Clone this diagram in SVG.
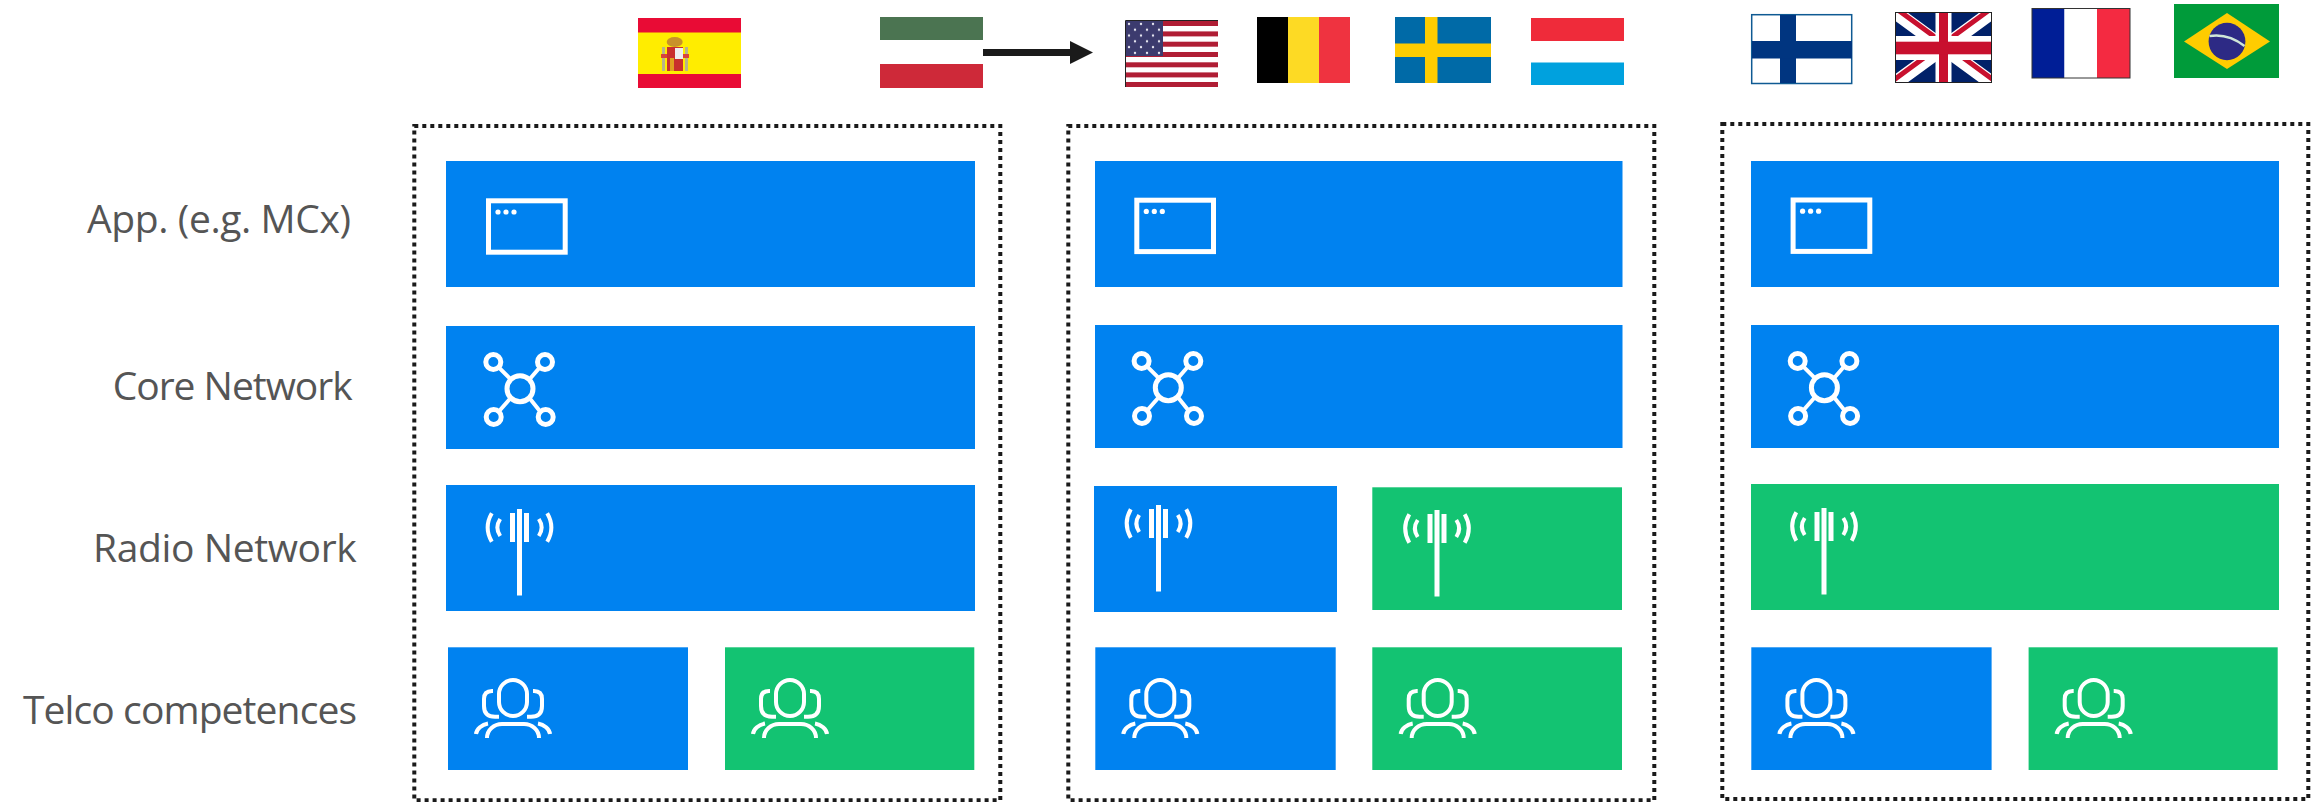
<svg xmlns="http://www.w3.org/2000/svg" xmlns:xlink="http://www.w3.org/1999/xlink" width="2323" height="802" viewBox="0 0 2323 802">
<style>
.blue{fill:#0082f0}
.green{fill:#13c372}
.frame{fill:none;stroke:#1a1a1a;stroke-width:4;stroke-dasharray:4 4}
.ico{fill:none;stroke:#fff;stroke-width:4}
.ico5{fill:none;stroke:#fff;stroke-width:5}
.lbl{font-family:"Open Sans","Lato",sans-serif;font-size:39px;fill:#555}
</style>
<defs>
<g id="i-win"><rect class="ico5" x="2.5" y="2.5" width="76.7" height="51.4"/><circle cx="12" cy="13.7" r="2.6" fill="#fff"/><circle cx="20" cy="13.7" r="2.6" fill="#fff"/><circle cx="28" cy="13.7" r="2.6" fill="#fff"/></g>
<g id="i-net"><circle class="ico5" r="13"/><circle class="ico5" cx="-26.7" cy="-26.7" r="7.5"/><circle class="ico5" cx="25" cy="-26.7" r="7.5"/><circle class="ico5" cx="-26.3" cy="28.3" r="7.5"/><circle class="ico5" cx="25.7" cy="28.3" r="7.5"/><path class="ico" d="M-21,-21L-10,-10M19.500,-21L10,-10M-21,22.500L-10,10M20,22.500L10,10"/></g>
<g id="i-ant"><rect x="-2.500" y="0" width="5" height="86.500" fill="#fff"/><rect x="-9.500" y="4" width="5" height="29" fill="#fff"/><rect x="4.500" y="4" width="5" height="29" fill="#fff"/><path class="ico" d="M-27.700,4.300Q-36,18.500 -27.700,32.700M-19.300,10Q-25,18.500 -19.300,27M27.700,4.300Q36,18.500 27.700,32.700M19.300,10Q25,18.500 19.300,27"/></g>
<g id="i-ppl"><rect class="ico" x="-14" y="2" width="28" height="36" rx="14" ry="14"/><path class="ico" d="M-20,13H-21Q-29,13 -29,21V28Q-29,38.700 -18,38.700H-14M20,13H21Q29,13 29,21V28Q29,38.700 18,38.700H14M-26,60C-26,52 -19,46 -11,46H11C19,46 26,52 26,60M-37,56C-36.500,51 -31,46.500 -25,45.500M37,56C36.500,51 31,46.500 25,45.500"/></g>
<marker id="ah" markerUnits="userSpaceOnUse" markerWidth="24" markerHeight="24" refX="0" refY="12" orient="auto"><path d="M0,0.500L23,12L0,23.500Z" fill="#1a1a1a"/></marker>
<pattern id="stars" width="12" height="11.600" patternUnits="userSpaceOnUse" x="1126" y="21"><circle cx="3" cy="3" r="1.200" fill="#e8e8f2"/><circle cx="9" cy="8.800" r="1.200" fill="#e8e8f2"/></pattern>
<clipPath id="ukclip"><rect x="1895" y="12" width="97" height="71"/></clipPath>
</defs>
<rect width="2323" height="802" fill="#fff"/>

<g id="labels">
<text class="lbl" x="87" y="232.900" textLength="264">App. (e.g. MCx)</text>
<text class="lbl" x="112.700" y="400" textLength="240">Core Network</text>
<text class="lbl" x="93" y="562" textLength="263.700">Radio Network</text>
<text class="lbl" x="23" y="723.800" textLength="334">Telco competences</text>
</g>

<g id="flag-spain">
<rect x="638" y="18" width="103" height="70" fill="#e90b35"/><rect x="638" y="32.500" width="103" height="41.500" fill="#ffed00"/>
<ellipse cx="674.700" cy="42" rx="8" ry="5" fill="#c8922a"/><rect x="667" y="47" width="16" height="24" fill="#c9302c"/><rect x="675" y="48" width="8" height="11" fill="#eee"/><rect x="670" y="58" width="4" height="13" fill="#e0a020"/><rect x="662" y="47" width="3" height="24" fill="#b8b48a"/><rect x="685" y="47" width="3" height="24" fill="#b8b48a"/><rect x="661" y="54" width="6" height="4" fill="#d8433a"/><rect x="683" y="54" width="6" height="4" fill="#d8433a"/>
</g>
<g id="flag-kuwait">
<rect x="880" y="17" width="103" height="23" fill="#4b7451"/><rect x="880" y="64" width="103" height="24" fill="#ce2939"/>
</g>
<g id="flag-usa">
<rect x="1125" y="20" width="93" height="67" fill="#fff"/>
<g fill="#b01e35"><rect x="1126" y="21" width="92" height="5"/><rect x="1126" y="31.400" width="92" height="5"/><rect x="1126" y="41.700" width="92" height="5"/><rect x="1126" y="52" width="92" height="5"/><rect x="1126" y="62.300" width="92" height="5"/><rect x="1126" y="72.400" width="92" height="5"/><rect x="1126" y="82" width="92" height="5"/></g>
<rect x="1126" y="21" width="37" height="35" fill="#3c3b6e"/><rect x="1126" y="21" width="37" height="35" fill="url(#stars)"/>
<path d="M1125.500,87V20.500H1218" fill="none" stroke="#222" stroke-width="1"/>
</g>
<g id="flag-belgium"><rect x="1257" y="17" width="31" height="66" fill="#000"/><rect x="1288" y="17" width="31" height="66" fill="#fdda24"/><rect x="1319" y="17" width="31" height="66" fill="#ef3340"/></g>
<g id="flag-sweden"><rect x="1395" y="17" width="96" height="66" fill="#006aa7"/><rect x="1425" y="17" width="12.500" height="66" fill="#fecc00"/><rect x="1395" y="43.500" width="96" height="13.500" fill="#fecc00"/></g>
<g id="flag-luxembourg"><rect x="1531" y="18" width="93" height="23" fill="#ef2b3a"/><rect x="1531" y="62.500" width="93" height="22.500" fill="#00a1de"/></g>
<g id="flag-finland"><rect x="1751.700" y="14.700" width="100" height="68.800" fill="#fff" stroke="#0f5a93" stroke-width="1.500"/><rect x="1780" y="15" width="16" height="68" fill="#003580"/><rect x="1752" y="41" width="100" height="17.500" fill="#003580"/></g>
<g id="flag-uk">
<g clip-path="url(#ukclip)"><rect x="1895" y="12" width="97" height="71" fill="#012169"/>
<path d="M1895,12L1992,83M1992,12L1895,83" stroke="#fff" stroke-width="14"/>
<path d="M1895,12L1943.500,47.500M1992,83L1943.500,47.500" stroke="#c8102e" stroke-width="5" transform="translate(3 -2)"/><path d="M1992,12L1943.500,47.500M1895,83L1943.500,47.500" stroke="#c8102e" stroke-width="5" transform="translate(-2 -2.500)"/>
<rect x="1935.500" y="12" width="16" height="71" fill="#fff"/><rect x="1895" y="36" width="97" height="24" fill="#fff"/>
<rect x="1939" y="12" width="9" height="71" fill="#c8102e"/><rect x="1895" y="41.700" width="97" height="12.600" fill="#c8102e"/></g>
<rect x="1895.500" y="12.500" width="96" height="70" fill="none" stroke="#222" stroke-width="1"/>
</g>
<g id="flag-france"><rect x="2032" y="8.500" width="32.500" height="69.500" fill="#001e96"/><rect x="2064.500" y="8.500" width="32.500" height="69.500" fill="#fff"/><rect x="2097" y="8.500" width="33" height="69.500" fill="#f42a41"/><rect x="2032" y="8.500" width="98" height="69.500" fill="none" stroke="#333" stroke-width="1"/></g>
<g id="flag-brazil"><rect x="2174" y="4" width="105" height="74" fill="#009b3a"/><path d="M2227,13L2270,41.500L2227,69L2184,41.500Z" fill="#fc0"/><ellipse cx="2227" cy="41.500" rx="18.400" ry="18.700" fill="#2d2a85"/><path d="M2209.500,36Q2228,33 2244.500,46" fill="none" stroke="#cfe6d8" stroke-width="2.500"/></g>

<g id="connectors">
<line x1="983" y1="52.500" x2="1070" y2="52.500" stroke="#1a1a1a" stroke-width="7" marker-end="url(#ah)"/>
</g>

<g id="frame-1"><rect class="frame" x="414.300" y="126" width="586" height="674.300"/></g>
<g id="frame-2"><rect class="frame" x="1068.300" y="126" width="586" height="674.300"/></g>
<g id="frame-3"><rect class="frame" x="1722.300" y="124" width="586" height="675"/></g>

<g id="c1-app"><rect class="blue" x="446" y="161" width="529" height="126"/><use href="#i-win" x="486" y="198.300"/></g>
<g id="c1-core"><rect class="blue" x="446" y="326" width="529" height="123"/><use href="#i-net" x="520" y="388.700"/></g>
<g id="c1-radio"><rect class="blue" x="446" y="485" width="529" height="126"/><use href="#i-ant" x="519.500" y="509"/></g>
<g id="c1-telco-a"><rect class="blue" x="448" y="647.300" width="240" height="122.700"/><use href="#i-ppl" x="513" y="678"/></g>
<g id="c1-telco-b"><rect class="green" x="725" y="647.300" width="249.300" height="122.700"/><use href="#i-ppl" x="790" y="678"/></g>

<g id="c2-app"><rect class="blue" x="1095" y="161" width="527.500" height="126"/><use href="#i-win" x="1134.300" y="197.700"/></g>
<g id="c2-core"><rect class="blue" x="1095" y="325" width="527.500" height="123"/><use href="#i-net" x="1168.300" y="387.700"/></g>
<g id="c2-radio-a"><rect class="blue" x="1094" y="486" width="243" height="126"/><use href="#i-ant" x="1158.500" y="505"/></g>
<g id="c2-radio-b"><rect class="green" x="1372.300" y="487.300" width="249.700" height="122.700"/><use href="#i-ant" x="1437" y="510"/></g>
<g id="c2-telco-a"><rect class="blue" x="1095.300" y="647.300" width="240.400" height="122.700"/><use href="#i-ppl" x="1160.300" y="678"/></g>
<g id="c2-telco-b"><rect class="green" x="1372.300" y="647.300" width="249.700" height="122.700"/><use href="#i-ppl" x="1437.700" y="678"/></g>

<g id="c3-app"><rect class="blue" x="1751" y="161" width="528" height="126"/><use href="#i-win" x="1790.600" y="197.500"/></g>
<g id="c3-core"><rect class="blue" x="1751" y="325" width="528" height="123"/><use href="#i-net" x="1824.400" y="387.700"/></g>
<g id="c3-radio"><rect class="green" x="1751" y="484" width="528" height="126"/><use href="#i-ant" x="1824" y="508"/></g>
<g id="c3-telco-a"><rect class="blue" x="1751.300" y="647.300" width="240.300" height="122.700"/><use href="#i-ppl" x="1816.400" y="678"/></g>
<g id="c3-telco-b"><rect class="green" x="2028.600" y="647.300" width="249.100" height="122.700"/><use href="#i-ppl" x="2093.700" y="678"/></g>
</svg>
